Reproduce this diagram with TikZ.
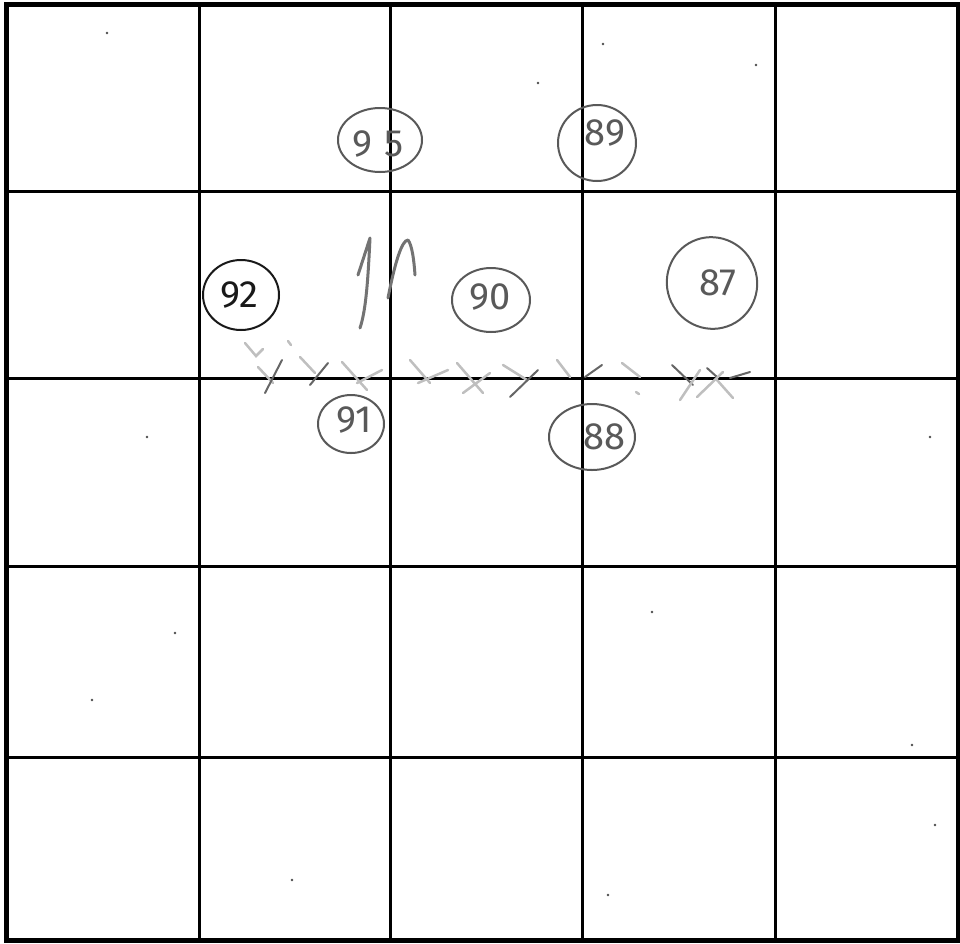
\documentclass[tikz,border=0pt]{standalone}
\usepackage{fontspec}
\setmainfont{Fira Sans}
\usetikzlibrary{shapes.geometric}
\tikzset{
  gridline/.style={line width=3pt, black},
  borderline/.style={line width=5pt, black},
  circ/.style={ellipse, draw=#1, line width=2pt, inner sep=0pt},
  circ/.default={black!65},
  digits/.style={text=#1, font=\fontsize{38}{42}\selectfont, inner sep=0pt},
  digits/.default={black!65},
  pencil/.style={draw=black!55, line width=3pt, line cap=round, line join=round},
  xmark/.style={draw=black!25, line width=2.5pt, line cap=round},
  xdark/.style={draw=black!60, line width=2pt, line cap=round},
  speck/.style={fill=black!70, draw=none}
}
\begin{document}
\begin{tikzpicture}[x=1pt,y=-1pt]
\useasboundingbox (0,0) rectangle (960,943);
% grid
\foreach \x in {199.5,390.5,582,775} \draw[gridline] (\x,4) -- (\x,941);
\foreach \y in {191,378.5,566,757} \draw[gridline] (6,\y) -- (958,\y);
\draw[borderline] (6,4.5) rectangle (958,940.5);
% circled numbers
\node[circ, minimum width=84pt, minimum height=64pt] (c95) at (380,140) {};
\node[digits] (t95) at ([shift={(-2,4)}]c95.center) {9\hspace{12pt}5};
\node[circ, minimum width=78pt, minimum height=76pt] (c89) at (597,143) {};
\node[digits] (t89) at ([shift={(8,-10)}]c89.center) {89};
\node[circ=black!90, minimum width=76pt, minimum height=70pt] (c92) at (241,295) {};
\node[digits=black!90] (t92) at ([shift={(-2,0)}]c92.center) {92};
\node[circ, minimum width=78pt, minimum height=64pt] (c90) at (491,300) {};
\node[digits] (t90) at ([shift={(-1,-3)}]c90.center) {90};
\node[circ, minimum width=90pt, minimum height=92pt, rotate=25] (c87) at (712,283) {};
\node[digits] (t87) at ([shift={(6,0)}]c87.center) {87};
\node[circ, minimum width=66pt, minimum height=58pt] (c91) at (351,424) {};
\node[digits] (t91) at ([shift={(3,-4)}]c91.center) {91};
\node[circ, minimum width=86pt, minimum height=66pt] (c88) at (592,437) {};
\node[digits] (t88) at ([shift={(12,0)}]c88.center) {88};
% pencil strokes
\draw[pencil] (358,275) -- (370,238) .. controls (368,280) and (366,310) .. (360,328);
\draw[pencil] (388,298) .. controls (395,262) and (402,240) .. (408,240) .. controls (412,245) and (414,260) .. (415,275);
% crosses
\draw[xmark] (245,343) -- (256,356) -- (263,349);
\draw[xmark] (258,367) -- (273,383);
\draw[xdark] (282,360) -- (265,393);
\draw[xmark] (288,341) -- (291,345);
\draw[xmark] (300,357) -- (315,373);
\draw[xdark] (328,363) -- (310,385);
\draw[xmark] (342,362) -- (367,390);
\draw[xmark] (382,370) -- (357,383);
\draw[xmark] (410,360) -- (430,383);
\draw[xmark] (448,370) -- (418,383);
\draw[xmark] (457,363) -- (483,393);
\draw[xmark] (490,373) -- (463,393);
\draw[xmark] (503,365) -- (527,380);
\draw[xdark] (538,370) -- (510,397);
\draw[xmark] (557,360) -- (570,377);
\draw[xdark] (585,377) -- (602,365);
\draw[xmark] (622,363) -- (640,377);
\draw[xmark] (636,392) -- (639,394);
\draw[xdark] (672,365) -- (693,385);
\draw[xmark] (700,370) -- (680,400);
\draw[xdark] (707,368) -- (717,377);
\draw[xmark] (723,372) -- (697,397);
\draw[xmark] (717,380) -- (733,398);
\draw[xdark] (730,378) -- (750,372);
% specks
\foreach \p in {(107,33),(538,83),(603,44),(756,65),(147,437),(930,437),(175,633),(652,612),(92,700),(912,745),(935,825),(292,880),(608,895)}
  \fill[speck] \p circle (1.3);
\end{tikzpicture}
\end{document}
